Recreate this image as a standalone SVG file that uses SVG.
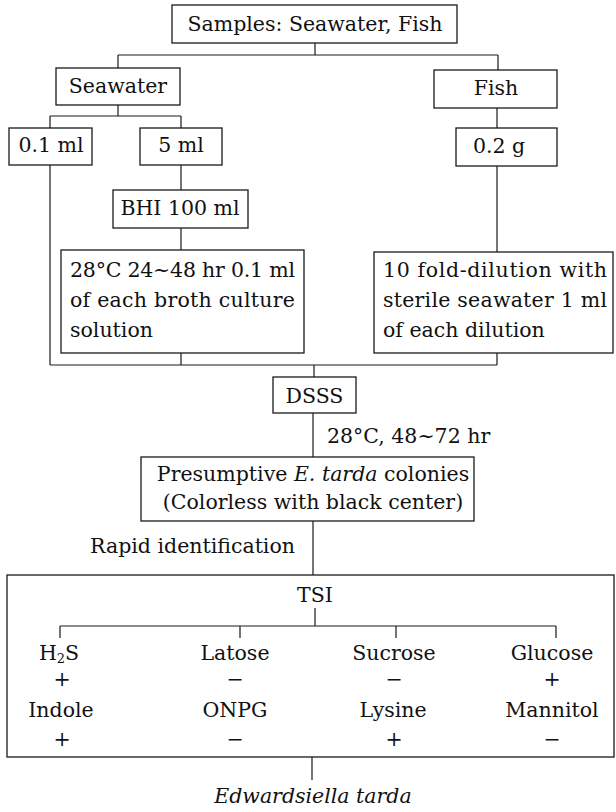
<svg xmlns="http://www.w3.org/2000/svg" width="616" height="812" viewBox="0 0 616 812">
<style>
.box{fill:#fff;stroke:#1a1a1a;stroke-width:1.3}
.ln{fill:none;stroke:#1a1a1a;stroke-width:1.2}
.t{font-family:"DejaVu Serif","Liberation Serif",serif;font-size:20.5px;fill:#111}
.c{text-anchor:middle}
.i{font-style:italic}
</style>
<rect width="616" height="812" fill="#fff"/>
<g id="n-samples"><rect class="box" x="172" y="5" width="285" height="38"/><text class="t c" x="315" y="31">Samples: Seawater, Fish</text></g>
<g id="n-seawater"><rect class="box" x="56" y="68" width="124" height="37"/><text class="t c" x="118" y="93">Seawater</text></g>
<g id="n-fish"><rect class="box" x="434" y="70" width="123" height="38"/><text class="t c" x="496" y="95">Fish</text></g>
<g id="n-01ml"><rect class="box" x="9" y="128" width="83" height="37"/><text class="t c" x="51" y="152">0.1 ml</text></g>
<g id="n-5ml"><rect class="box" x="140" y="128" width="82" height="37"/><text class="t c" x="181" y="152">5 ml</text></g>
<g id="n-02g"><rect class="box" x="456" y="128" width="101" height="38"/><text class="t c" x="499" y="153">0.2 g</text></g>
<g id="n-bhi"><rect class="box" x="113" y="190" width="135" height="38"/><text class="t c" x="180" y="215">BHI 100 ml</text></g>
<g id="n-broth"><rect class="box" x="61" y="250" width="243" height="103"/>
<text class="t" x="70" y="277" textLength="225" lengthAdjust="spacing">28°C 24~48 hr 0.1 ml</text>
<text class="t" x="70" y="307" textLength="225" lengthAdjust="spacing">of each broth culture</text>
<text class="t" x="70" y="337">solution</text></g>
<g id="n-dilution"><rect class="box" x="374" y="252" width="239" height="101"/>
<text class="t" x="383" y="277" textLength="224" lengthAdjust="spacing">10 fold-dilution with</text>
<text class="t" x="383" y="307" textLength="224" lengthAdjust="spacing">sterile seawater 1 ml</text>
<text class="t" x="383" y="337">of each dilution</text></g>
<g id="n-dsss"><rect class="box" x="273" y="377" width="83" height="36"/><text class="t c" x="314.5" y="403">DSSS</text></g>
<text class="t" x="327" y="443">28°C, 48~72 hr</text>
<g id="n-presumptive"><rect class="box" x="141" y="457" width="333" height="64"/>
<text class="t c" x="313" y="481">Presumptive <tspan class="i">E. tarda</tspan> colonies</text>
<text class="t c" x="313" y="509">(Colorless with black center)</text></g>
<text class="t" x="90" y="553">Rapid identification</text>
<g id="n-tests"><rect class="box" x="7" y="575" width="607" height="182"/>
<text class="t c" x="315" y="602">TSI</text>
<text class="t c" x="59" y="660">H<tspan font-size="13" dy="3">2</tspan><tspan dy="-3">S</tspan></text>
<text class="t c" x="235" y="660">Latose</text>
<text class="t c" x="394" y="660">Sucrose</text>
<text class="t c" x="552" y="660">Glucose</text>
<text class="t c" x="62" y="686">+</text>
<text class="t c" x="235" y="686">−</text>
<text class="t c" x="394" y="686">−</text>
<text class="t c" x="552" y="686">+</text>
<text class="t c" x="61" y="717">Indole</text>
<text class="t c" x="235" y="717">ONPG</text>
<text class="t c" x="393" y="717">Lysine</text>
<text class="t c" x="552" y="717">Mannitol</text>
<text class="t c" x="62" y="746">+</text>
<text class="t c" x="235" y="746">−</text>
<text class="t c" x="394" y="746">+</text>
<text class="t c" x="552" y="746">−</text></g>
<g id="n-result"><text class="t c i" x="313" y="803" font-size="21.5">Edwardsiella tarda</text></g>
<g id="connectors">
<path class="ln" d="M315,43V55M118,55H498M118,55V68M498,55V70"/>
<path class="ln" d="M118,105V116M50,116H181M50,116V128M181,116V128"/>
<path class="ln" d="M181,165V190M181,228V250M497,108V128M497,166V252"/>
<path class="ln" d="M50,165V365M50,365H497M181,353V365M497,353V365M314,365V377"/>
<path class="ln" d="M313,413V457M313,521V575"/>
<path class="ln" d="M315,608V626M60,626H556M60,626V638M240,626V638M396,626V638M556,626V638"/>
<path class="ln" d="M312,757V780"/>
</g>
</svg>
